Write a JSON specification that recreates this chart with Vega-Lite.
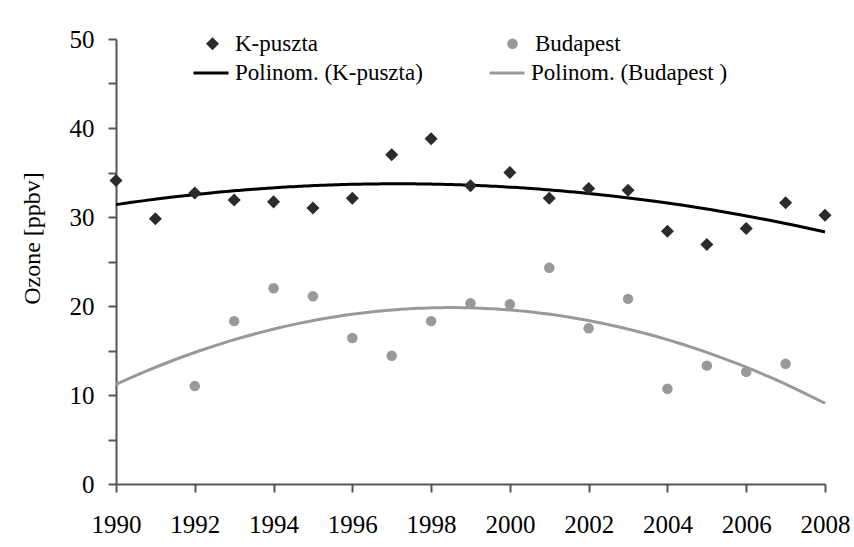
{
  "$schema": "https://vega.github.io/schema/vega-lite/v6.json",
  "width": 709,
  "height": 445,
  "autosize": {"type": "none"},
  "padding": {"left": 116, "top": 39, "right": 29, "bottom": 63},
  "background": "white",
  "config": {
    "view": {"stroke": null},
    "font": "Liberation Serif",
    "axis": {
      "labelFont": "Liberation Serif",
      "titleFont": "Liberation Serif",
      "labelColor": "black",
      "titleColor": "black",
      "domainColor": "#555555",
      "domainWidth": 2,
      "tickColor": "#555555",
      "tickWidth": 2,
      "tickSize": 8,
      "grid": false
    },
    "legend": {"labelFont": "Liberation Serif", "labelColor": "black", "padding": 0, "labelLimit": 0}
  },
  "data": {
    "values": [
      {"year": 1990, "series": "K-puszta", "fit": "Polinom. (K-puszta)", "value": 34.1},
      {"year": 1991, "series": "K-puszta", "fit": "Polinom. (K-puszta)", "value": 29.8},
      {"year": 1992, "series": "K-puszta", "fit": "Polinom. (K-puszta)", "value": 32.7},
      {"year": 1993, "series": "K-puszta", "fit": "Polinom. (K-puszta)", "value": 31.9},
      {"year": 1994, "series": "K-puszta", "fit": "Polinom. (K-puszta)", "value": 31.7},
      {"year": 1995, "series": "K-puszta", "fit": "Polinom. (K-puszta)", "value": 31.0},
      {"year": 1996, "series": "K-puszta", "fit": "Polinom. (K-puszta)", "value": 32.1},
      {"year": 1997, "series": "K-puszta", "fit": "Polinom. (K-puszta)", "value": 37.0},
      {"year": 1998, "series": "K-puszta", "fit": "Polinom. (K-puszta)", "value": 38.8},
      {"year": 1999, "series": "K-puszta", "fit": "Polinom. (K-puszta)", "value": 33.5},
      {"year": 2000, "series": "K-puszta", "fit": "Polinom. (K-puszta)", "value": 35.0},
      {"year": 2001, "series": "K-puszta", "fit": "Polinom. (K-puszta)", "value": 32.1},
      {"year": 2002, "series": "K-puszta", "fit": "Polinom. (K-puszta)", "value": 33.2},
      {"year": 2003, "series": "K-puszta", "fit": "Polinom. (K-puszta)", "value": 33.0},
      {"year": 2004, "series": "K-puszta", "fit": "Polinom. (K-puszta)", "value": 28.4},
      {"year": 2005, "series": "K-puszta", "fit": "Polinom. (K-puszta)", "value": 26.9},
      {"year": 2006, "series": "K-puszta", "fit": "Polinom. (K-puszta)", "value": 28.7},
      {"year": 2007, "series": "K-puszta", "fit": "Polinom. (K-puszta)", "value": 31.6},
      {"year": 2008, "series": "K-puszta", "fit": "Polinom. (K-puszta)", "value": 30.2},
      {"year": 1992, "series": "Budapest", "fit": "Polinom. (Budapest )", "value": 11.0},
      {"year": 1993, "series": "Budapest", "fit": "Polinom. (Budapest )", "value": 18.3},
      {"year": 1994, "series": "Budapest", "fit": "Polinom. (Budapest )", "value": 22.0},
      {"year": 1995, "series": "Budapest", "fit": "Polinom. (Budapest )", "value": 21.1},
      {"year": 1996, "series": "Budapest", "fit": "Polinom. (Budapest )", "value": 16.4},
      {"year": 1997, "series": "Budapest", "fit": "Polinom. (Budapest )", "value": 14.4},
      {"year": 1998, "series": "Budapest", "fit": "Polinom. (Budapest )", "value": 18.3},
      {"year": 1999, "series": "Budapest", "fit": "Polinom. (Budapest )", "value": 20.3},
      {"year": 2000, "series": "Budapest", "fit": "Polinom. (Budapest )", "value": 20.2},
      {"year": 2001, "series": "Budapest", "fit": "Polinom. (Budapest )", "value": 24.3},
      {"year": 2002, "series": "Budapest", "fit": "Polinom. (Budapest )", "value": 17.5},
      {"year": 2003, "series": "Budapest", "fit": "Polinom. (Budapest )", "value": 20.8},
      {"year": 2004, "series": "Budapest", "fit": "Polinom. (Budapest )", "value": 10.7},
      {"year": 2005, "series": "Budapest", "fit": "Polinom. (Budapest )", "value": 13.3},
      {"year": 2006, "series": "Budapest", "fit": "Polinom. (Budapest )", "value": 12.6},
      {"year": 2007, "series": "Budapest", "fit": "Polinom. (Budapest )", "value": 13.5}
    ]
  },
  "encoding": {
    "x": {
      "field": "year",
      "type": "quantitative",
      "scale": {"domain": [1990, 2008], "nice": false, "zero": false},
      "axis": {
        "title": null,
        "values": [1990, 1992, 1994, 1996, 1998, 2000, 2002, 2004, 2006, 2008],
        "format": "d",
        "labelFontSize": 25,
        "labelPadding": 20,
        "labelFlush": false
      }
    },
    "y": {
      "field": "value",
      "type": "quantitative",
      "scale": {"domain": [0, 50], "nice": false},
      "axis": {
        "title": "Ozone [ppbv]",
        "titleFontSize": 24,
        "titleFontWeight": "normal",
        "titlePadding": 25,
        "titleY": 199,
        "values": [0, 5, 10, 15, 20, 25, 30, 35, 40, 45, 50],
        "labelExpr": "datum.value % 10 == 0 ? datum.label : ''",
        "labelFontSize": 25,
        "labelPadding": 14
      }
    }
  },
  "layer": [
    {
      "transform": [
        {"regression": "value", "on": "year", "groupby": ["fit"], "method": "poly", "order": 2, "extent": [1990, 2008]}
      ],
      "mark": {"type": "line", "strokeWidth": 3, "interpolate": "monotone"},
      "encoding": {
        "color": {
          "field": "fit",
          "type": "nominal",
          "scale": {"domain": ["Polinom. (K-puszta)", "Polinom. (Budapest )"], "range": ["#000000", "#999999"]},
          "legend": {
            "title": null,
            "orient": "none",
            "legendX": 76,
            "legendY": 15,
            "direction": "horizontal",
            "columns": 2,
            "columnPadding": 60,
            "symbolType": "stroke",
            "symbolSize": 1225,
            "symbolStrokeWidth": 3,
            "labelOffset": 5,
            "labelFontSize": 23,
            "labelFont": "Liberation Serif",
            "labelLimit": 0
          }
        }
      }
    },
    {
      "mark": {"type": "point", "filled": true, "opacity": 1},
      "encoding": {
        "color": {
          "field": "series",
          "type": "nominal",
          "scale": {"domain": ["K-puszta", "Budapest"], "range": ["#2b2b2b", "#999999"]},
          "legend": {
            "title": null,
            "orient": "none",
            "legendX": 85,
            "legendY": -7,
            "direction": "horizontal",
            "columns": 2,
            "columnPadding": 182,
            "symbolSize": 75,
            "labelOffset": 11,
            "labelFontSize": 23,
            "labelFont": "Liberation Serif",
            "labelLimit": 0
          }
        },
        "shape": {
          "field": "series",
          "type": "nominal",
          "scale": {"domain": ["K-puszta", "Budapest"], "range": ["diamond", "circle"]},
          "legend": {
            "title": null,
            "orient": "none",
            "legendX": 85,
            "legendY": -7,
            "direction": "horizontal",
            "columns": 2,
            "columnPadding": 182,
            "symbolSize": 75,
            "labelOffset": 11,
            "labelFontSize": 23,
            "labelFont": "Liberation Serif",
            "labelLimit": 0
          }
        },
        "size": {
          "field": "series",
          "type": "nominal",
          "scale": {"domain": ["K-puszta", "Budapest"], "range": [170, 110]},
          "legend": null
        }
      }
    }
  ],
  "resolve": {"scale": {"color": "independent", "shape": "independent", "size": "independent"}}
}
